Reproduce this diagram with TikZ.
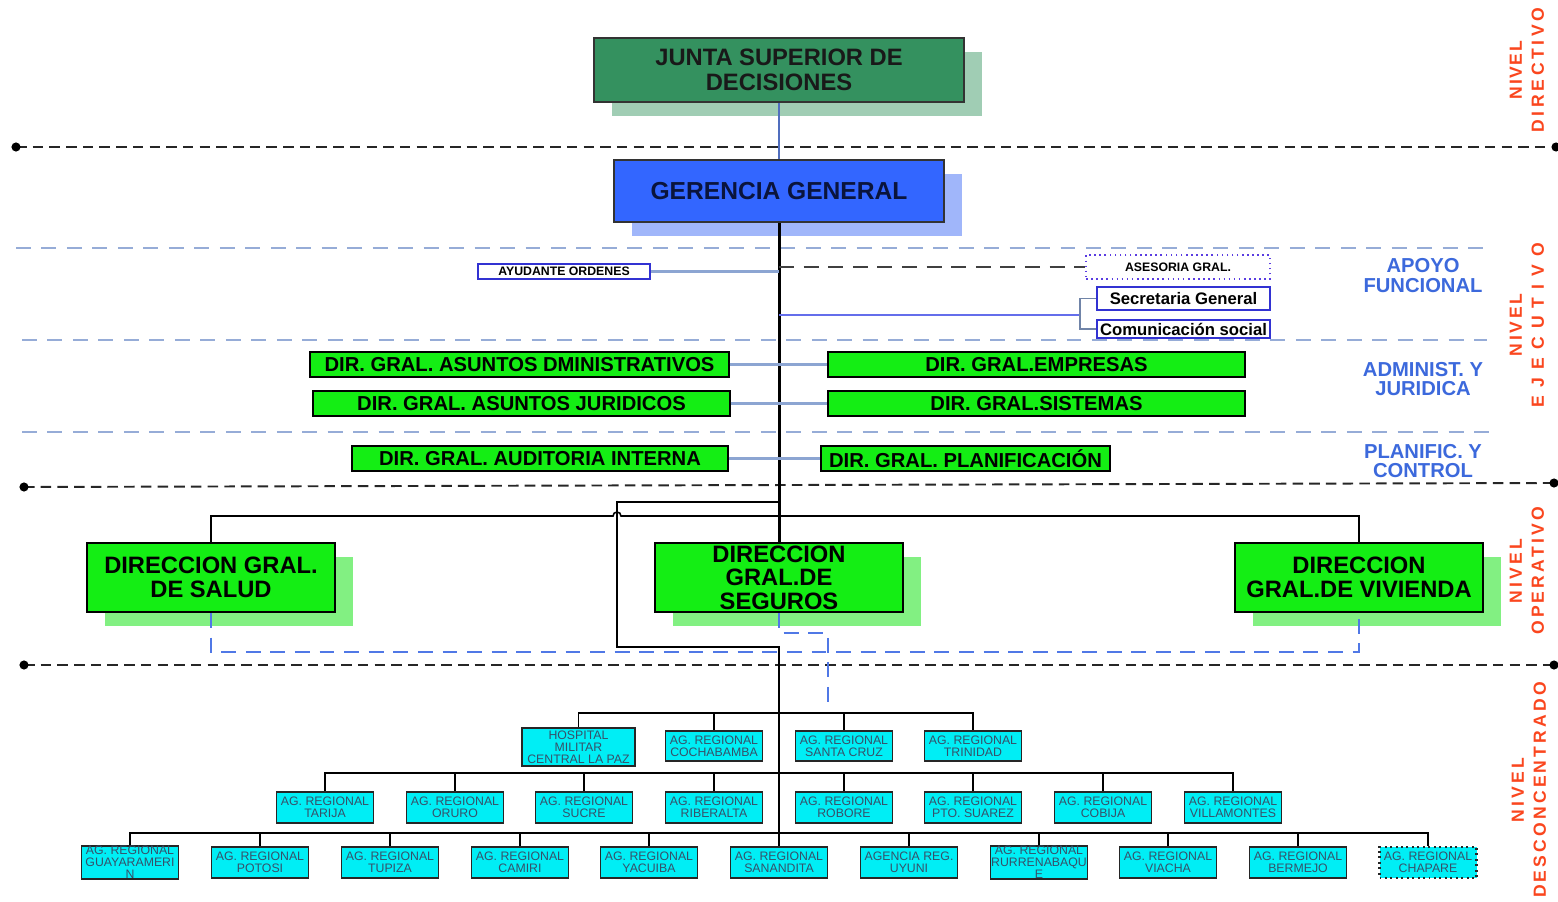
\documentclass[tikz,border=0pt]{standalone}
\usepackage{fontspec}
\setmainfont{Liberation Sans}
\usetikzlibrary{shadows}
\definecolor{juntaf}{RGB}{52,145,95}
\definecolor{juntas}{RGB}{160,205,180}
\definecolor{gerf}{RGB}{51,102,255}
\definecolor{gers}{RGB}{160,182,250}
\definecolor{grn}{RGB}{20,238,20}
\definecolor{grns}{RGB}{130,240,130}
\definecolor{cyn}{RGB}{0,238,245}
\definecolor{agtxt}{RGB}{55,80,105}
\definecolor{sepc}{RGB}{150,172,215}
\definecolor{linkc}{RGB}{140,165,210}
\definecolor{lblue}{RGB}{60,105,220}
\definecolor{lred}{RGB}{250,70,30}
\definecolor{bordb}{RGB}{50,50,210}
\definecolor{asec}{RGB}{90,60,225}
\definecolor{opdash}{RGB}{80,120,230}
\definecolor{secl}{RGB}{100,110,235}
\definecolor{gertxt}{RGB}{10,20,60}
\definecolor{jlc}{RGB}{80,110,190}
\begin{document}
\begin{tikzpicture}[x=0.02cm, y=-0.02cm,
  lvlline/.style={line width=1.1pt, dash pattern=on 6pt off 3.5pt, black!85},
  sepline/.style={line width=0.9pt, dash pattern=on 8.5pt off 6pt, sepc},
  junta/.style={draw=black!80, line width=0.9pt, fill=juntaf, inner sep=0pt, align=center,
    minimum width=7.4cm, minimum height=1.28cm, text=black!90,
    general shadow={fill=juntas, shadow xshift=0.36cm, shadow yshift=-0.28cm},
    font=\bfseries\fontsize{13.5}{14}\selectfont},
  gerb/.style={draw=black!80, line width=0.9pt, fill=gerf, inner sep=0pt, align=center,
    minimum width=6.6cm, minimum height=1.24cm, text=gertxt,
    general shadow={fill=gers, shadow xshift=0.36cm, shadow yshift=-0.28cm},
    font=\bfseries\fontsize{14}{16}\selectfont},
  smallb/.style={draw=bordb, line width=0.9pt, fill=white, inner sep=0pt,
    font=\bfseries\fontsize{7}{8}\selectfont},
  secb/.style={draw=bordb, line width=1.1pt, fill=white, inner sep=0pt,
    minimum width=3.46cm, minimum height=0.46cm, font=\bfseries\fontsize{9.5}{11}\selectfont},
  dirb/.style={draw=black, line width=0.8pt, fill=grn, inner sep=0pt, minimum height=0.5cm,
    font=\bfseries\fontsize{11.5}{13}\selectfont},
  opb/.style={draw=black, line width=1.1pt, fill=grn, inner sep=0pt, align=center,
    minimum width=4.96cm, minimum height=1.38cm,
    general shadow={fill=grns, shadow xshift=0.36cm, shadow yshift=-0.28cm},
    font=\bfseries\fontsize{13.5}{13.3}\selectfont},
  agb/.style={draw=black!85, line width=1.1pt, fill=cyn, inner sep=0pt, align=center,
    minimum width=1.94cm, minimum height=0.62cm, text=agtxt,
    font=\fontsize{7}{6.8}\selectfont},
  tree/.style={line width=0.9pt, black},
  mainv/.style={line width=1.7pt, black},
  link/.style={line width=1.4pt, linkc},
  jline/.style={line width=0.7pt, jlc},
  opd/.style={line width=1.1pt, opdash, dash pattern=on 8.5pt off 5.5pt},
  lbl/.style={text=lblue, align=center, font=\bfseries\fontsize{11.5}{11}\selectfont},
  rlbl/.style={text=lred, align=center, rotate=90, font=\bfseries\fontsize{10}{12.5}\selectfont}
]
\useasboundingbox (0,0) rectangle (1558,902);

% level separators
\coordinate (d1a) at (16,147); \coordinate (d1b) at (1556,147);
\coordinate (d2a) at (24,487); \coordinate (d2b) at (1554,483);
\coordinate (d3a) at (24,665); \coordinate (d3b) at (1554,665);
\draw[lvlline] (d1a) -- (d1b);
\draw[lvlline] (d2a) -- (d2b);
\draw[lvlline] (d3a) -- (d3b);
\foreach \p in {d1a,d1b,d2a,d2b,d3a,d3b} \fill[black] (\p) circle[radius=2.6pt];

\coordinate (s1a) at (16,248); \coordinate (s1b) at (1490,248);
\coordinate (s2a) at (22,340); \coordinate (s2b) at (1487,340);
\coordinate (s3a) at (22,432); \coordinate (s3b) at (1490,432);
\draw[sepline] (s1a) -- (s1b);
\draw[sepline] (s2a) -- (s2b);
\draw[sepline] (s3a) -- (s3b);

% top
\node[junta] (jun) at (779,70) {JUNTA SUPERIOR DE\\DECISIONES};
\node[gerb] (ger) at (779,191) {GERENCIA GENERAL};

% apoyo funcional
\node[smallb, minimum width=3.44cm, minimum height=0.3cm] (ayu) at (564,271.5) {AYUDANTE ORDENES};
\node[smallb, draw=asec, dotted, line width=1.1pt, minimum width=3.68cm, minimum height=0.48cm] (ase) at (1178,267) {ASESORIA GRAL.};
\node[secb] (sec) at (1183.5,298.5) {Secretaria General};
\node[secb, minimum height=0.36cm] (com) at (1183.5,329) {Comunicación social};

% direcciones generales
\node[dirb, minimum width=8.38cm] (adm) at (519.5,364.5) {DIR. GRAL. ASUNTOS DMINISTRATIVOS};
\node[dirb, minimum width=8.34cm] (emp) at (1036.5,364.5) {DIR. GRAL.EMPRESAS};
\node[dirb, minimum width=8.34cm] (jur) at (521.5,403.5) {DIR. GRAL. ASUNTOS JURIDICOS};
\node[dirb, minimum width=8.34cm] (sis) at (1036.5,403.5) {DIR. GRAL.SISTEMAS};
\node[dirb, minimum width=7.52cm] (aud) at (540,458.5) {DIR. GRAL. AUDITORIA INTERNA};
\node[dirb, minimum width=5.78cm] (pla) at (965.5,458.5) {DIR. GRAL. PLANIFICACIÓN};

% operativo
\node[opb] (sal) at (211,577.5) {DIRECCION GRAL.\\DE SALUD};
\node[opb] (seg) at (779,577.5) {DIRECCION\\GRAL.DE\\SEGUROS};
\node[opb] (viv) at (1359,577.5) {DIRECCION\\GRAL.DE VIVIENDA};

% desconcentrado
\node[agb, minimum width=2.26cm, minimum height=0.76cm] (hos) at (578.5,747) {HOSPITAL\\MILITAR\\CENTRAL LA PAZ};
\foreach \n/\x/\t in {coc/714/COCHABAMBA, scz/844/SANTA CRUZ, tri/973/TRINIDAD}
  \node[agb, minimum height=0.6cm] (\n) at (\x,746) {AG. REGIONAL\\\t};
\foreach \n/\x/\t in {tar/325/TARIJA, oru/455/ORURO, suc/584/SUCRE, rib/714/RIBERALTA,
  rob/844/ROBORE, pto/973/PTO. SUAREZ, cob/1103/COBIJA, vil/1233/VILLAMONTES}
  \node[agb] (\n) at (\x,807.5) {AG. REGIONAL\\\t};
\node[agb] (gua) at (130,862.5) {AG. REGIONAL\\GUAYARAMERI\\N};
\foreach \n/\x/\t in {pot/260/POTOSI, tup/390/TUPIZA, cam/520/CAMIRI, yac/649/YACUIBA,
  san/779/SANANDITA, via/1168/VIACHA, ber/1298/BERMEJO}
  \node[agb] (\n) at (\x,862.5) {AG. REGIONAL\\\t};
\node[agb] (uyu) at (909,862.5) {AGENCIA REG.\\UYUNI};
\node[agb] (rur) at (1039,862.5) {AG. REGIONAL\\RURRENABAQU\\E};
\node[agb, dotted, line width=1.6pt] (cha) at (1428,862.5) {AG. REGIONAL\\CHAPARE};

% connectors
\draw[jline] (jun.south) -- (ger.north);
\draw[mainv] (ger.south) -- (seg.north);
\draw[link] (ayu.east) -- (ayu.east -| ger.south);
\coordinate (asej) at (779,267);
\draw[line width=1.1pt, black!75, dash pattern=on 8.5pt off 5.5pt] (asej) -- (ase.west);
\coordinate (secj) at (779,315);
\coordinate (brk) at (1080,315);
\draw[line width=1.4pt, secl] (secj) -- (brk);
\draw[line width=0.7pt, linkc!80!black] (sec.west) -- (sec.west -| brk) -- (com.west -| brk) -- (com.west);
\draw[link] (adm.east) -- (emp.west);
\draw[link] (jur.east) -- (sis.west);
\draw[link] (aud.east) -- (pla.west);

\coordinate (hj) at (779,516);
\draw[tree] (sal.north) -- (sal.north |- hj) -- (613,516)
  arc[start angle=180, end angle=0, radius=0.08cm] -- (viv.north |- hj) -- (viv.north);
\coordinate (lp) at (779,502);
\coordinate (lq) at (779,647);
\draw[tree] (lp) -- (617,502) -- (617,647) -- (lq) -- (san.north);

\coordinate (bj) at (779,652);
\draw[opd] (sal.south) -- (sal.south |- bj) -- (viv.south |- bj) -- (viv.south);
\coordinate (sj) at (828,706);
\draw[opd] (seg.south) -- (779,633) -- (828,633) -- (sj);

\coordinate (bus1) at (779,713);
\coordinate (bus2) at (779,773);
\coordinate (bus3) at (779,833);
\draw[tree] (hos.north) -- (hos.north |- bus1) -- (tri.north |- bus1) -- (tri.north);
\foreach \n in {coc,scz} \draw[tree] (\n.north) -- (\n.north |- bus1);
\draw[tree] (tar.north) -- (tar.north |- bus2) -- (vil.north |- bus2) -- (vil.north);
\foreach \n in {oru,suc,rib,rob,pto,cob} \draw[tree] (\n.north) -- (\n.north |- bus2);
\draw[tree] (gua.north) -- (gua.north |- bus3) -- (cha.north |- bus3) -- (cha.north);
\foreach \n in {pot,tup,cam,yac,uyu,rur,via,ber} \draw[tree] (\n.north) -- (\n.north |- bus3);

% side labels
\node[lbl] (lapo) at (1423,275.5) {APOYO\\FUNCIONAL};
\node[lbl] (ladm) at (1423,379) {ADMINIST. Y\\JURIDICA};
\node[lbl] (lpla) at (1423,461) {PLANIFIC. Y\\CONTROL};

\node[rlbl] (ndir) at (1527,70) {{\addfontfeature{LetterSpace=9}NIVEL}\\{\addfontfeature{LetterSpace=21}DIRECTIVO}};
\node[rlbl] (neje) at (1527,325) {{\addfontfeature{LetterSpace=15}NIVEL}\\{\addfontfeature{LetterSpace=46}EJECUTIVO}};
\node[rlbl] (nope) at (1527,571) {{\addfontfeature{LetterSpace=18}NIVEL}\\{\addfontfeature{LetterSpace=18}OPERATIVO}};
\node[rlbl] (ndes) at (1529,790) {{\addfontfeature{LetterSpace=18}NIVEL}\\{\addfontfeature{LetterSpace=18}DESCONCENTRADO}};
\end{tikzpicture}
\end{document}
